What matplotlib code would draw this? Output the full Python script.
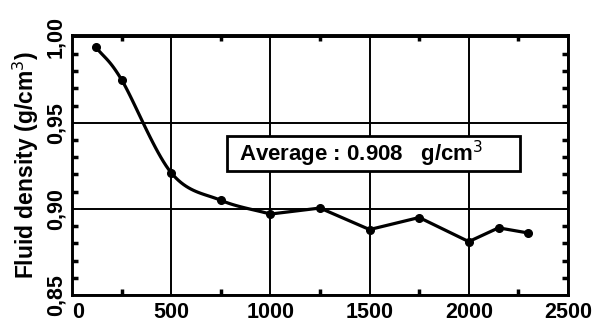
import matplotlib
matplotlib.use("Agg")
import matplotlib.pyplot as plt
import numpy as np
from matplotlib.patches import Rectangle
from matplotlib.ticker import MultipleLocator, FuncFormatter

plt.rcParams['font.family'] = ['Liberation Sans', 'DejaVu Sans']

# data
depth = [120, 250, 500, 750, 1000, 1250, 1500, 1750, 2000, 2150, 2300]
density = [0.994, 0.975, 0.921, 0.905, 0.897, 0.9005, 0.888, 0.895, 0.881, 0.889, 0.886]
x_ticks = [0, 500, 1000, 1500, 2000, 2500]
y_ticks = [0.85, 0.90, 0.95, 1.00]
avg_text = "Average : 0.908   g/cm$^3$"


def smooth(x, y, n=20):
    # catmull-rom through the points, only for the drawn line
    x = np.asarray(x, float)
    y = np.asarray(y, float)
    px = np.concatenate([[2 * x[0] - x[1]], x, [2 * x[-1] - x[-2]]])
    py = np.concatenate([[2 * y[0] - y[1]], y, [2 * y[-1] - y[-2]]])
    t = np.linspace(0, 1, n, endpoint=False)
    xs, ys = [], []
    for i in range(1, len(px) - 2):
        for p, out in ((px, xs), (py, ys)):
            p0, p1, p2, p3 = p[i - 1], p[i], p[i + 1], p[i + 2]
            out.extend(0.5 * (2 * p1 + (-p0 + p2) * t
                              + (2 * p0 - 5 * p1 + 4 * p2 - p3) * t ** 2
                              + (-p0 + 3 * p1 - 3 * p2 + p3) * t ** 3))
    xs.append(x[-1])
    ys.append(y[-1])
    return xs, ys


fig = plt.figure(figsize=(5.93, 3.23), dpi=100)
ax = fig.add_axes([0.1214, 0.0867, 0.8364, 0.805])

# smooth first part, straight segments after 1000
sx, sy = smooth(depth[:5], density[:5])
ax.plot(sx + depth[5:], sy + density[5:], color='black', lw=2.3,
        solid_capstyle='round', solid_joinstyle='round', zorder=3)
ax.plot(depth, density, 'o', color='black', ms=5.5, zorder=4)

ax.set_xlim(0, 2500)
ax.set_ylim(0.85, 1.001)
ax.set_xticks(x_ticks)
ax.set_yticks(y_ticks)
ax.xaxis.set_minor_locator(MultipleLocator(250))
ax.yaxis.set_minor_locator(MultipleLocator(0.01))
ax.yaxis.set_major_formatter(FuncFormatter(lambda v, p: f"{v:.2f}".replace('.', ',')))

ax.grid(which='major', color='black', lw=1.4)
ax.tick_params(which='both', direction='in', top=True, right=True, width=2.5)
ax.tick_params(which='major', length=0, labelsize=15.5)
ax.tick_params(axis='x', which='major', pad=5)
ax.tick_params(axis='y', which='major', pad=4)
ax.tick_params(which='minor', length=4)
for lab in ax.get_yticklabels():
    lab.set_rotation(90)
    lab.set_va('center')
for lab in ax.get_xticklabels() + ax.get_yticklabels():
    lab.set_fontweight('bold')
ax.get_xticklabels()[0].set_ha('left')
for s in ax.spines.values():
    s.set_linewidth(2.1)

ax.set_ylabel("Fluid density (g/cm$^3$)", fontsize=16.5, fontweight='bold', labelpad=3)

ax.add_patch(Rectangle((0.312, 0.477), 0.592, 0.134, transform=ax.transAxes,
                       fc='white', ec='black', lw=2, zorder=5))
ax.text(0.336, 0.544, avg_text, transform=ax.transAxes, fontsize=16,
        fontweight='bold', ha='left', va='center', zorder=6)

fig.savefig("out.png", dpi=100)
